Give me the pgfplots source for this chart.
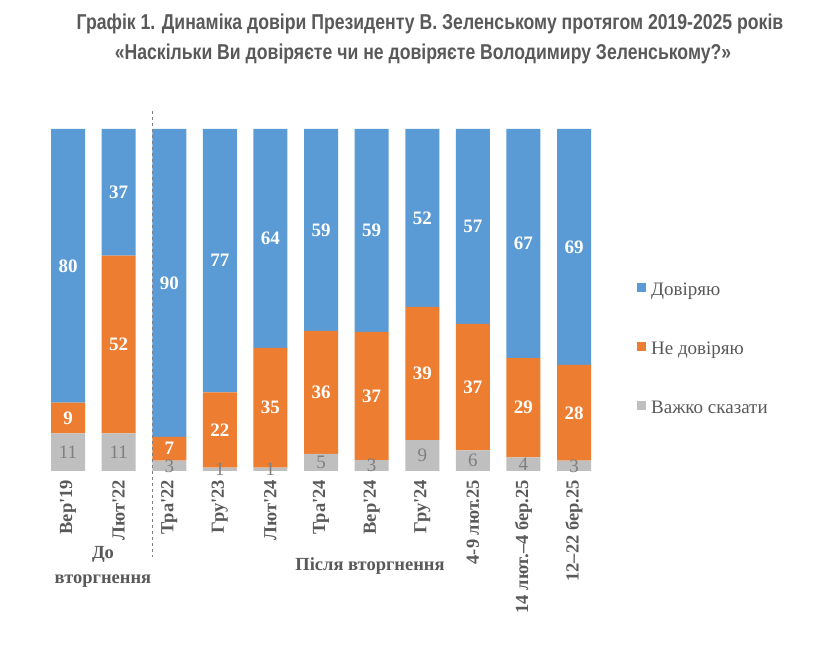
\documentclass[border=0pt]{standalone}
\usepackage{fontspec}
\setmainfont{Liberation Serif}
\newfontfamily\titlefont{Liberation Sans}[FakeStretch=0.82]
\usepackage{pgfplots}
\pgfplotsset{compat=1.18}
\usepackage{pgfplotstable}
\definecolor{cblue}{HTML}{5B9BD5}
\definecolor{corange}{HTML}{ED7D31}
\definecolor{cgray}{HTML}{BFBFBF}
\definecolor{cgraytext}{HTML}{7F7F7F}
\definecolor{ctext}{HTML}{595959}
\definecolor{cdash}{HTML}{808080}
\newcommand\ap{\textquotesingle}

% g, o, b: segment heights; gl, ol, bl: printed labels
\pgfplotstableread{
x g o b gl ol bl
0 11 9 80 11 9 80
1 11 52 37 11 52 37
2 3 7 90 3 7 90
3 1 22 77 1 22 77
4 1 35 64 1 35 64
5 5 36 59 5 36 59
6 3.2 37.5 59.3 3 37 59
7 9 39 52 9 39 52
8 6 37 57 6 37 57
9 4 29 67 4 29 67
10 3 28 69 3 28 69
}\data

\pgfplotsset{common/.style={
  at={(42.75bp,177bp)}, anchor=south west,
  scale only axis, width=556.6bp, height=342bp,
  xmin=-0.5, xmax=10.5, ymin=0, ymax=100,
  clip=false}}

\begin{document}
\begin{tikzpicture}
\path (0bp,0bp) rectangle (814bp,648bp);
\node[font=\titlefont\bfseries\fontsize{21.5bp}{24bp}\selectfont, text=ctext] at (430bp,624bp) {Графік 1. Динаміка довіри Президенту В. Зеленському протягом 2019-2025 років};
\node[font=\titlefont\bfseries\fontsize{21.5bp}{24bp}\selectfont, text=ctext] at (423bp,594bp) {«Наскільки Ви довіряєте чи не довіряєте Володимиру Зеленському?»};

\begin{axis}[
  common,
  ybar stacked, bar width=34bp,
  axis line style={draw=none},
  ytick=\empty,
  xtick={0,...,10},
  xticklabels={Вер\ap19,Лют\ap22,Тра\ap22,Гру\ap23,Лют\ap24,Тра\ap24,Вер\ap24,Гру\ap24,4-9 лют.25,14 лют.–4 бер.25,12–22 бер.25},
  major tick length=0pt,
  xticklabel style={rotate=90, anchor=east, inner sep=0pt, outer xsep=9bp,
    font=\bfseries\fontsize{18.5bp}{20bp}\selectfont, text=ctext},
  reverse legend,
  legend image code/.code={\fill[#1] (0bp,-1bp) rectangle (9bp,8bp);},
  legend style={at={(axis description cs:1.0676,0.354)}, anchor=west,
    draw=none, fill=none, inner sep=0pt,
    font=\fontsize{19bp}{19bp}\selectfont, text=ctext,
    row sep=42bp, cells={anchor=west},
    nodes={inner sep=0pt, text height=13bp, text depth=4bp},
    /tikz/every odd column/.append style={column sep=5bp}},
]
\addplot[fill=cgray, draw=none] table[x=x,y=g]{\data};
\addplot[fill=corange, draw=none] table[x=x,y=o]{\data};
\addplot[fill=cblue, draw=none] table[x=x,y=b]{\data};
\legend{Важко сказати,Не довіряю,Довіряю}
\end{axis}

\begin{axis}[common, hide axis]
\addplot[only marks, mark=none,
  point meta=explicit symbolic, nodes near coords,
  every node near coord/.append style={anchor=center, text=cgraytext,
    font=\fontsize{19bp}{19bp}\selectfont, inner sep=0pt}]
  table[x=x, y expr=\thisrow{g}/2, meta=gl]{\data};
\addplot[only marks, mark=none,
  point meta=explicit symbolic, nodes near coords,
  every node near coord/.append style={anchor=center, text=white,
    font=\bfseries\fontsize{19bp}{19bp}\selectfont, inner sep=0pt}]
  table[x=x, y expr=\thisrow{g}+\thisrow{o}/2, meta=ol]{\data};
\addplot[only marks, mark=none,
  point meta=explicit symbolic, nodes near coords,
  every node near coord/.append style={anchor=center, text=white,
    font=\bfseries\fontsize{19bp}{19bp}\selectfont, inner sep=0pt}]
  table[x=x, y expr=\thisrow{g}+\thisrow{o}+\thisrow{b}/2, meta=bl]{\data};
\end{axis}

\draw[cdash, line width=1.3bp, dash pattern=on 3.5bp off 2.5bp] (152.7bp,537bp) -- (152.7bp,91bp);
\node[font=\bfseries\fontsize{18.5bp}{25bp}\selectfont, text=ctext, align=center] at (103bp,81.5bp) {До\\вторгнення};
\node[font=\bfseries\fontsize{18.5bp}{25bp}\selectfont, text=ctext] at (370bp,82bp) {Після вторгнення};
\end{tikzpicture}
\end{document}
